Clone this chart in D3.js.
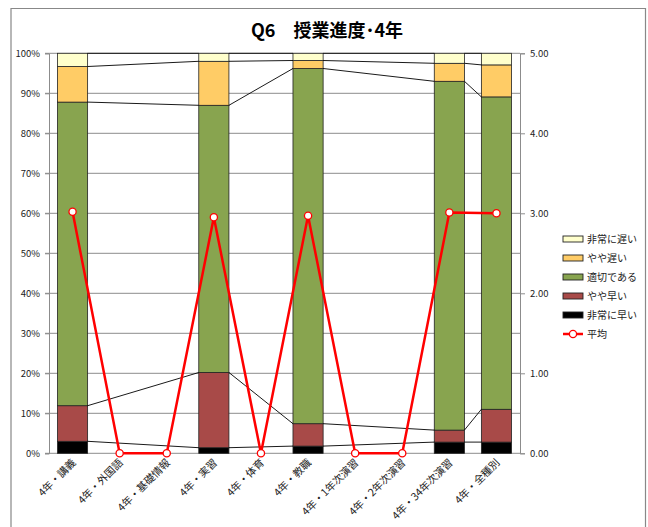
<!DOCTYPE html>
<html><head><meta charset="utf-8">
<script src="https://cdn.jsdelivr.net/npm/d3@7"></script>
<style>
body{margin:0;background:#fff;}
text{font-family:"Noto Sans CJK JP","Noto Sans",sans-serif;}
</style></head>
<body><svg id="c" width="648" height="527"></svg>
<script>
const categories = ["4年・講義","4年・外国語","4年・基礎情報","4年・実習","4年・体育","4年・教職","4年・1年次演習","4年・2年次演習","4年・34年次演習","4年・全種別"];
const seriesNames = ["非常に早い","やや早い","適切である","やや遅い","非常に遅い"];
const seriesColors = ["#000000","#A84A48","#88A44F","#FFCC66","#FFFFCC"];
const verySoon = [3.0, null, null, 1.4, null, 1.8, null, null, 2.8, 2.8];
const slightlySoon = [8.9, null, null, 18.8, null, 5.6, null, null, 3.0, 8.2];
const appropriate = [75.9, null, null, 66.8, null, 88.8, null, null, 87.2, 78.1];
const slightlyLate = [8.9, null, null, 11.0, null, 2.0, null, null, 4.5, 8.0];
const veryLate = [3.3, null, null, 2.0, null, 1.8, null, null, 2.5, 2.9];
const average = [3.02, 0, 0, 2.95, 0, 2.97, 0, 0, 3.01, 3.00];
const leftTicks = [0,10,20,30,40,50,60,70,80,90,100];
const rightTicks = [0,1,2,3,4,5];

const seriesValues = [verySoon, slightlySoon, appropriate, slightlyLate, veryLate];
const svg = d3.select("#c");
const L = 49, R = 520, T = 53.3, B = 453.3;

// chart border
svg.append("path").attr("d", `M11,527 V8.5 H645.5 V527`).attr("fill","none").attr("stroke","#888").attr("stroke-width",1.2);

// title
svg.append("text").attr("x",327).attr("y",37).attr("text-anchor","middle")
  .attr("font-size",18).attr("font-weight","bold").text("Q6　授業進度･4年");

const x = d3.scaleBand().domain(categories).range([L,R]).paddingInner(0.36).paddingOuter(0.18);
const xc = d3.scaleBand().domain(categories).range([L,R]);
const y = d3.scaleLinear().domain([0,100]).range([B,T]);
const y2 = d3.scaleLinear().domain([0,5]).range([B,T]);

// gridlines
svg.append("g").selectAll("line").data(leftTicks).join("line")
  .attr("x1",L-4).attr("x2",R).attr("y1",d=>y(d)).attr("y2",d=>y(d))
  .attr("stroke","#8c8c8c").attr("stroke-width",1);
// left axis
const la = svg.append("g").attr("transform",`translate(${L},0)`)
  .call(d3.axisLeft(y).tickValues(leftTicks).tickFormat(d=>d+"%").tickSize(4).tickPadding(5));
la.select(".domain").attr("stroke","#8c8c8c");
la.selectAll(".tick line").attr("stroke","#8c8c8c");
la.selectAll("text").attr("font-size",9.5).attr("fill","#222").attr("font-family","Liberation Sans, Arial, sans-serif");
// right axis
const ra = svg.append("g").attr("transform",`translate(${R},0)`)
  .call(d3.axisRight(y2).tickValues(rightTicks).tickFormat(d3.format(".2f")).tickSize(5).tickPadding(5));
ra.select(".domain").attr("stroke","#8c8c8c");
ra.selectAll(".tick line").attr("stroke","#8c8c8c");
ra.selectAll("text").attr("font-size",9.5).attr("fill","#222").attr("font-family","Liberation Sans, Arial, sans-serif");

// stacks
const rows = categories.map((c,i)=>{ const o={cat:c}; seriesNames.forEach((s,k)=>o[s]=seriesValues[k][i]??0); o.empty = seriesValues[0][i]==null; return o;});
const stack = d3.stack().keys(seriesNames)(rows);
stack.forEach((layer,k)=>{
  svg.append("g").selectAll("rect").data(layer.filter(d=>!d.data.empty)).join("rect")
    .attr("x",d=>x(d.data.cat)).attr("width",x.bandwidth())
    .attr("y",d=>y(d[1])).attr("height",d=>y(d[0])-y(d[1]))
    .attr("fill",seriesColors[k]).attr("stroke","#222").attr("stroke-width",0.8);
});
// series lines
const nonEmpty = rows.map((r,i)=>i).filter(i=>!rows[i].empty);
stack.forEach(layer=>{
  for(let j=0;j<nonEmpty.length-1;j++){
    const a=nonEmpty[j], b=nonEmpty[j+1];
    svg.append("line").attr("x1",x(categories[a])+x.bandwidth()).attr("x2",x(categories[b]))
      .attr("y1",y(layer[a][1])).attr("y2",y(layer[b][1]))
      .attr("stroke","#000").attr("stroke-width",0.9);
  }
});

// average line
const line = d3.line().x((d,i)=>xc(categories[i])+xc.bandwidth()/2).y(d=>y2(d));
svg.append("path").datum(average).attr("d",line).attr("fill","none").attr("stroke","#FF0000").attr("stroke-width",2.5);
svg.append("g").selectAll("circle").data(average).join("circle")
  .attr("cx",(d,i)=>xc(categories[i])+xc.bandwidth()/2).attr("cy",d=>y2(d)).attr("r",3.6)
  .attr("fill","#fff").attr("stroke","#FF0000").attr("stroke-width",1.3);

// category labels
svg.append("g").selectAll("text").data(categories).join("text")
  .attr("transform",d=>`translate(${xc(d)+xc.bandwidth()/2+4},${B+10}) rotate(-45)`)
  .attr("text-anchor","end").attr("font-size",10.5).attr("fill","#222").text(d=>d);

// legend
const legendItems = [4,3,2,1,0];
const lg = svg.append("g");
legendItems.forEach((k,i)=>{
  const yy = 239 + i*19;
  lg.append("rect").attr("x",563).attr("y",yy-3).attr("width",20).attr("height",6)
    .attr("fill",seriesColors[k]).attr("stroke","#222").attr("stroke-width",0.9);
  lg.append("text").attr("x",587).attr("y",yy+3.5).attr("font-size",10).attr("fill","#222").text(seriesNames[k]);
});
{
  const yy = 239 + 5*19;
  lg.append("line").attr("x1",563).attr("x2",583).attr("y1",yy).attr("y2",yy).attr("stroke","#FF0000").attr("stroke-width",2.5);
  lg.append("circle").attr("cx",573).attr("cy",yy).attr("r",3.6).attr("fill","#fff").attr("stroke","#FF0000").attr("stroke-width",1.3);
  lg.append("text").attr("x",587).attr("y",yy+3.5).attr("font-size",10).attr("fill","#222").text("平均");
}
</script></body></html>
